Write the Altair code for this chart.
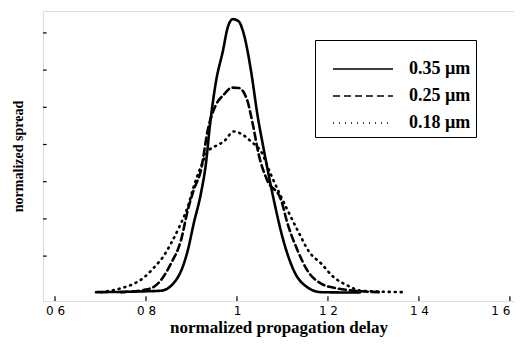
import altair as alt
import pandas as pd

series_names = ["0.35 µm", "0.25 µm", "0.18 µm"]

x_035 = [0.690, 0.789, 0.833, 0.870, 0.892, 0.905, 0.921, 0.932, 0.940, 0.954, 0.969, 0.980, 0.991,
         1.003, 1.015, 1.031, 1.045, 1.059, 1.081, 1.100, 1.125, 1.155, 1.185, 1.270]
y_035 = [0.03, 0.05, 0.07, 0.43, 1.16, 1.88, 2.70, 3.51, 4.45, 5.70, 6.51, 7.16, 7.37,
         7.32, 6.97, 5.97, 4.80, 3.86, 2.51, 1.51, 0.61, 0.16, 0.03, 0.02]

x_025 = [0.745, 0.800, 0.826, 0.855, 0.877, 0.892, 0.905, 0.921, 0.936, 0.954, 0.971, 0.989,
         1.004, 1.022, 1.035, 1.048, 1.066, 1.097, 1.111, 1.133, 1.155, 1.185, 1.221, 1.257, 1.316]
y_025 = [0.03, 0.10, 0.26, 0.80, 1.43, 2.24, 2.78, 3.32, 4.40, 5.07, 5.34, 5.53,
         5.52, 5.21, 4.53, 3.72, 3.05, 2.51, 1.88, 1.16, 0.61, 0.26, 0.13, 0.07, 0.03]

x_018 = [0.701, 0.752, 0.774, 0.796, 0.818, 0.837, 0.855, 0.873, 0.892, 0.905, 0.921, 0.936,
         0.958, 0.971, 0.993, 1.013, 1.031, 1.053, 1.075, 1.111, 1.133, 1.159, 1.185, 1.213,
         1.243, 1.273, 1.367]
y_018 = [0.03, 0.16, 0.26, 0.43, 0.70, 0.97, 1.34, 1.78, 2.33, 2.87, 3.41, 3.81,
         3.99, 4.08, 4.35, 4.26, 4.08, 3.81, 3.18, 2.24, 1.70, 1.11, 0.80, 0.43,
         0.21, 0.07, 0.03]

x_ticks = [0.6, 0.8, 1.0, 1.2, 1.4, 1.6]
y_ticks = [1, 2, 3, 4, 5, 6, 7]

X_DOM = [0.5736, 1.609]
Y_DOM = [-0.207, 7.589]

rows = []
for name, xs, ys in [(series_names[0], x_035, y_035),
                     (series_names[1], x_025, y_025),
                     (series_names[2], x_018, y_018)]:
    for i, (a, b) in enumerate(zip(xs, ys)):
        rows.append({"series": name, "x": a, "y": b, "order": i})
df = pd.DataFrame(rows)

xscale = alt.Scale(domain=X_DOM, nice=False, zero=False)
yscale = alt.Scale(domain=Y_DOM, nice=False, zero=False)

lines = alt.Chart(df).mark_line(strokeWidth=2.6, strokeCap="round", interpolate="monotone").encode(
    x=alt.X("x:Q", scale=xscale,
            axis=alt.Axis(title="normalized propagation delay", values=x_ticks, tickSize=0, domain=False,
                          grid=False, labelFont="DejaVu Sans", labelFontSize=12, labelColor="black",
                          labelPadding=4, labelFlush=5,
                          labelExpr="datum.value == 1 ? '1' : replace(format(datum.value, '.1f'), '.', ' ')",
                          titleFont="Liberation Serif", titleFontSize=17, titleFontWeight="bold",
                          titleColor="black", titlePadding=3)),
    y=alt.Y("y:Q", scale=yscale,
            axis=alt.Axis(title="normalized spread", values=y_ticks, labels=False, tickSize=0, domain=False,
                          grid=False, titleFont="Liberation Serif", titleFontSize=14, titleFontWeight="bold",
                          titleColor="black", titlePadding=17)),
    color=alt.Color("series:N", scale=alt.Scale(domain=series_names, range=["black", "black", "black"]),
                    legend=alt.Legend(title="\u00a0" * 10, titleFont="Liberation Serif", titleFontSize=13,
                                      titlePadding=0, orient="none",
                                      legendX=272, legendY=29, strokeColor="black", fillColor="white",
                                      padding=5, symbolType="M0.2,0H6.2", symbolSize=400, symbolStrokeWidth=1.6,
                                      labelFont="Liberation Serif", labelFontSize=18, labelFontWeight="bold",
                                      labelColor="black", labelOffset=67, rowPadding=7,
                                      labelExpr="datum.label + '\u00a0\u00a0\u00a0'")),
    strokeDash=alt.StrokeDash("series:N", scale=alt.Scale(domain=series_names, range=[[1, 0], [7, 4], [1, 5]]),
                              legend=None),
    detail="series:N",
    order="order:Q",
)

xt = pd.DataFrame({"v": x_ticks, "y0": [Y_DOM[0]] * len(x_ticks), "y1": [Y_DOM[0] + 0.13] * len(x_ticks)})
xtick_marks = alt.Chart(xt).mark_rule(color="black", strokeWidth=1.2).encode(
    x=alt.X("v:Q", scale=xscale), y=alt.Y("y0:Q", scale=yscale), y2="y1:Q")

yt = pd.DataFrame({"v": y_ticks, "x0": [X_DOM[0]] * len(y_ticks), "x1": [X_DOM[0] + 0.008] * len(y_ticks)})
ytick_marks = alt.Chart(yt).mark_rule(color="black", strokeWidth=1.2).encode(
    y=alt.Y("v:Q", scale=yscale), x=alt.X("x0:Q", scale=xscale), x2="x1:Q")

chart = alt.layer(xtick_marks, ytick_marks, lines).properties(
    width=471, height=290,
    autosize=alt.AutoSizeParams(type="none"),
    padding={"left": 35, "top": 3, "right": 0, "bottom": 36},
).configure_view(stroke="black", strokeWidth=1.6).configure(background="white")

chart.save("out.html", embed_options={"renderer": "svg", "actions": False})
